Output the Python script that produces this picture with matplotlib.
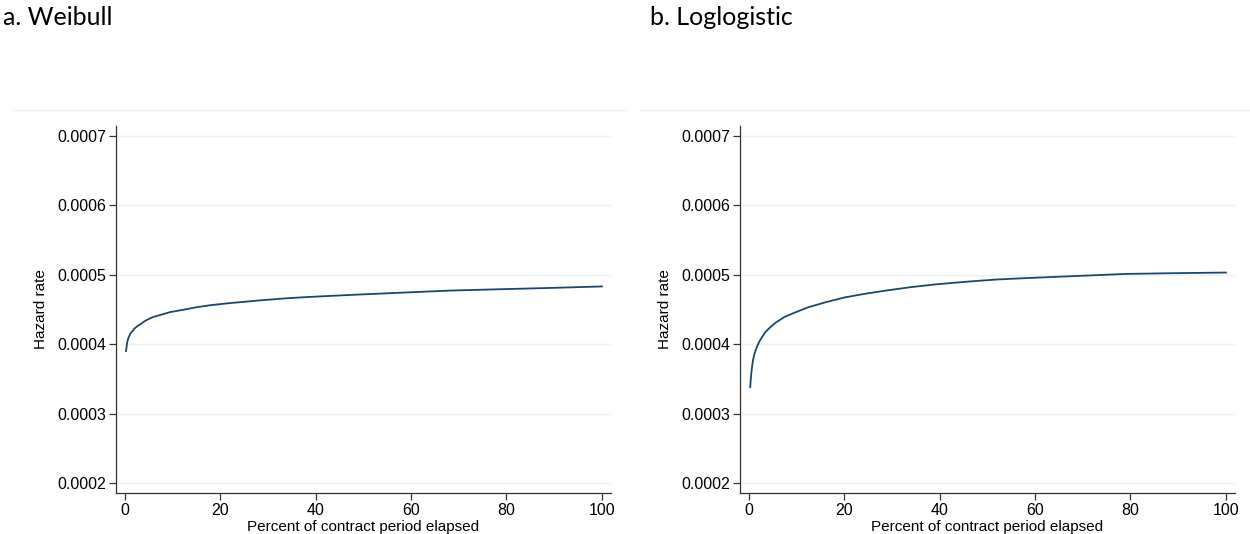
import matplotlib
matplotlib.use("Agg")
from matplotlib import pyplot as plt
from matplotlib.lines import Line2D

# Values
weibull_x = [0.3, 0.45, 0.6, 0.8, 1.0, 1.3, 1.7, 2.0, 2.7, 3.4, 4.2, 5.0, 6.0, 7.5,
             9.5, 12, 15, 18, 22, 28.5, 34, 39, 48, 57.9, 68, 78.8, 90, 100]
weibull_y = [0.000390, 0.000398, 0.000404, 0.000409, 0.000412, 0.000416, 0.000419,
             0.000422, 0.000426, 0.000429, 0.000433, 0.000436, 0.000439, 0.000442,
             0.000446, 0.000449, 0.000453, 0.000456, 0.000459, 0.000463, 0.000466,
             0.000468, 0.000471, 0.000474, 0.000477, 0.000479, 0.000481, 0.000483]

loglog_x = [0.35, 0.45, 0.57, 0.7, 0.9, 1.15, 1.47, 1.8, 2.2, 2.9, 3.6, 4.5, 5.7,
            7.5, 9.9, 12.5, 16, 20, 24, 28.7, 34, 39.2, 46, 52, 58.1, 65, 72, 79,
            88, 100]
loglog_y = [0.000338, 0.000349, 0.000358, 0.000366, 0.000376, 0.000384, 0.000391,
            0.000397, 0.000403, 0.000411, 0.000418, 0.000424, 0.000431, 0.000439,
            0.000446, 0.000453, 0.000460, 0.000467, 0.000472, 0.000477, 0.000482,
            0.000486, 0.000490, 0.000493, 0.000495, 0.000497, 0.000499, 0.000501,
            0.000502, 0.000503]

titles = ["a. Weibull", "b. Loglogistic"]
yticks = [0.0002, 0.0003, 0.0004, 0.0005, 0.0006, 0.0007]
ytick_labels = ["0.0002", "0.0003", "0.0004", "0.0005", "0.0006", "0.0007"]
xticks = [0, 20, 40, 60, 80, 100]

W, H = 1250, 534
fig = plt.figure(figsize=(W / 100, H / 100), dpi=100)

line_col = "#1a476f"
grid_col = "#eaf2f3"
axis_col = "#333333"

panels = [(weibull_x, weibull_y, 0), (loglog_x, loglog_y, 624)]
for (xs, ys, off), title in zip(panels, titles):
    left, right, top, bottom = 116 + off, 611 + off, 126, 493
    ax = fig.add_axes([left / W, 1 - bottom / H, (right - left) / W, (bottom - top) / H])
    ax.plot(xs, ys, color=line_col, lw=1.3)
    ax.set_xlim(-1.8, 101.9)
    ax.set_ylim(0.0001856, 0.000714)
    ax.set_yticks(yticks)
    ax.set_yticklabels(ytick_labels)
    ax.set_xticks(xticks)
    ax.grid(axis="y", color=grid_col, lw=1)
    ax.set_axisbelow(True)
    for s in ["top", "right"]:
        ax.spines[s].set_visible(False)
    for s in ["left", "bottom"]:
        ax.spines[s].set_color(axis_col)
        ax.spines[s].set_linewidth(0.9)
    ax.tick_params(axis="both", colors=axis_col, labelcolor="black", length=5,
                   width=0.9, pad=2, labelsize=11.5)
    for lab in ax.get_xticklabels() + ax.get_yticklabels():
        lab.set_fontfamily("Liberation Sans")
    ax.set_ylabel("Hazard rate", fontsize=11, family="Liberation Sans", labelpad=7)
    ax.set_xlabel("Percent of contract period elapsed", fontsize=11,
                  family="Liberation Sans", labelpad=1.5)

    # light outline at top of each graph region
    x0 = (13 if off == 0 else 640) / W
    x1 = (626 if off == 0 else 1250) / W
    fig.add_artist(Line2D([x0, x1], [1 - 110 / H, 1 - 110 / H], color=grid_col, lw=1))

    fig.text((3 + off * 1.037) / W, 1 - 6 / H, title, fontsize=18, family="Lato",
             ha="left", va="top")

fig.savefig("out.png", dpi=100)
